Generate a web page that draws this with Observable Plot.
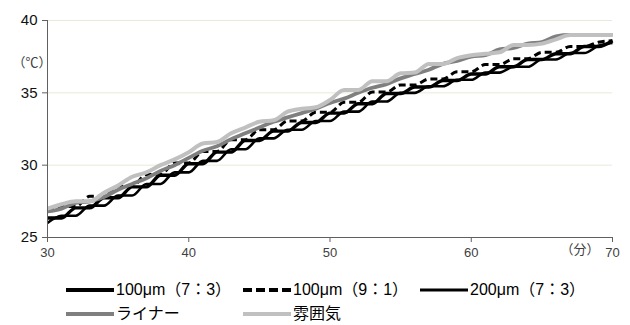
<!DOCTYPE html>
<html>
<head>
<meta charset="utf-8">
<script src="https://cdn.jsdelivr.net/npm/d3@7"></script>
<script src="https://cdn.jsdelivr.net/npm/@observablehq/plot@0.6"></script>
<style>
  html, body { margin: 0; padding: 0; background: #fff; }
  body { width: 630px; height: 325px; overflow: hidden; font-family: "Liberation Sans", "Noto Sans CJK JP", sans-serif; }
  #chart { position: relative; width: 630px; }
  #legend { position: relative; width: 630px; height: 63px; }
  .item { position: absolute; display: flex; align-items: center; font-size: 16px; line-height: 20px; color: #000; white-space: nowrap; }
  .item svg { display: block; margin-right: 2px; }
</style>
</head>
<body>
<div id="chart"></div>
<div id="legend"></div>
<script>
// ---- data ----
const minutes = [30,31,32,33,34,35,36,37,38,39,40,41,42,43,44,45,46,47,48,49,50,51,52,53,54,55,56,57,58,59,60,61,62,63,64,65,66,67,68,69,70];

const um100_73 = [26.35,26.35,27.05,27.05,27.75,27.75,28.5,28.5,29.3,29.3,30.1,30.1,30.9,30.9,31.7,31.7,32.35,32.35,32.95,32.95,33.6,33.6,34.25,34.25,34.95,34.95,35.4,35.4,35.85,35.85,36.3,36.3,36.8,36.8,37.3,37.3,37.7,37.7,38.2,38.2,38.6];

const um100_91 = [26.8,27.15,27.15,27.85,27.85,28.55,28.55,29.35,29.35,30.15,30.15,30.95,30.95,31.75,31.75,32.45,32.45,33.05,33.05,33.65,33.65,34.35,34.35,35.05,35.05,35.55,35.55,35.95,35.95,36.45,36.45,36.95,36.95,37.35,37.35,37.8,37.8,38.2,38.2,38.5,38.6];

const um200_73 = [26.0,26.5,26.5,27.2,27.2,27.9,27.9,28.7,28.7,29.5,29.5,30.3,30.3,31.1,31.1,31.85,31.85,32.45,32.45,33.05,33.05,33.7,33.7,34.4,34.4,35.0,35.0,35.45,35.45,35.9,35.9,36.4,36.4,36.8,36.8,37.3,37.3,37.75,37.75,38.25,38.45];

const liner = [26.8,27.0,27.4,27.5,27.8,28.3,28.7,29.1,29.6,30.0,30.5,31.0,31.3,31.8,32.2,32.6,33.0,33.3,33.6,33.9,34.3,34.6,35.0,35.35,35.6,36.0,36.3,36.6,37.0,37.2,37.5,37.6,38.0,38.1,38.4,38.5,38.9,39.0,39.0,39.0,39.0];

const atmosphere = [27.0,27.3,27.5,27.5,28.1,28.6,29.2,29.5,30.0,30.4,30.9,31.5,31.6,32.2,32.6,33.0,33.1,33.7,33.9,34.0,34.5,35.2,35.2,35.8,35.8,36.35,36.4,37.0,37.0,37.4,37.6,37.7,37.8,38.3,38.3,38.4,38.7,39.0,39.0,39.0,39.0];

const seriesNames = ["100μm（7：3）", "100μm（9：1）", "200μm（7：3）", "ライナー", "雰囲気"];
const xTicks = [30, 40, 50, 60, 70];
const yTicks = [25, 30, 35, 40];
const gridTicks = [30, 35, 40];
const yUnit = "（℃）";
const xUnit = "（分）";

// ---- styles ----
const styles = [
  {stroke: "#000", strokeWidth: 3.4, dash: null},
  {stroke: "#000", strokeWidth: 3.0, dash: "7,4"},
  {stroke: "#000", strokeWidth: 2.6, dash: null},
  {stroke: "#7f7f7f", strokeWidth: 3.8, dash: null},
  {stroke: "#c0c0c0", strokeWidth: 4, dash: null}
];

const valueArrays = [um100_73, um100_91, um200_73, liner, atmosphere];
const tables = valueArrays.map((vals, k) => minutes.map((m, i) => ({minute: m, temp: vals[i], series: seriesNames[k]})));

const font = "'Liberation Sans', 'Noto Sans CJK JP', sans-serif";

const lineMarks = tables.map((t, k) => Plot.line(t, {
  x: "minute", y: "temp", curve: "monotone-x",
  stroke: styles[k].stroke, strokeWidth: styles[k].strokeWidth,
  strokeDasharray: styles[k].dash || undefined,
  strokeLinejoin: "round", strokeLinecap: "butt"
}));

const plot = Plot.plot({
  width: 630,
  height: 262,
  marginLeft: 47,
  marginRight: 18,
  marginTop: 20,
  marginBottom: 25,
  style: {fontFamily: font, background: "#fff", overflow: "visible"},
  x: {domain: [30, 70]},
  y: {domain: [25, 40]},
  marks: [
    Plot.ruleY(gridTicks, {stroke: "#e9e9d9", strokeWidth: 1}),
    ...lineMarks,
    Plot.ruleX([30], {stroke: "#606060", strokeWidth: 1}),
    Plot.ruleY([25], {stroke: "#606060", strokeWidth: 1}),
    Plot.axisY({ticks: yTicks, tickSize: 5, tickPadding: 5, fontSize: 15, label: null, stroke: "#606060", fill: "#111"}),
    Plot.axisX({ticks: xTicks, tickSize: 5, tickPadding: 5, fontSize: 13, label: null, stroke: "#606060", fill: "#404040"}),
    Plot.text([yUnit], {frameAnchor: "top-left", dx: -35, dy: 37, textAnchor: "start", fontSize: 13, fill: "#404040"}),
    Plot.text([xUnit], {frameAnchor: "bottom-right", dx: -13, dy: 16, textAnchor: "end", fontSize: 13, fill: "#404040"})
  ]
});
document.getElementById("chart").appendChild(plot);

// ---- legend ----
const legend = document.getElementById("legend");
const legendPos = [
  {left: 66, top: 18}, {left: 243, top: 18}, {left: 420, top: 18},
  {left: 66, top: 42}, {left: 243, top: 42}
];
seriesNames.forEach((name, k) => {
  const item = document.createElement("div");
  item.className = "item";
  item.style.left = legendPos[k].left + "px";
  item.style.top = legendPos[k].top + "px";
  const s = styles[k];
  const w = k === 2 ? 3 : 4.2;
  item.innerHTML = `<svg width="48" height="20"><line x1="0" x2="48" y1="10" y2="10" stroke="${s.stroke}" stroke-width="${w}" ${s.dash ? 'stroke-dasharray="9,4"' : ''}/></svg><span>${name}</span>`;
  legend.appendChild(item);
});
</script>
</body>
</html>
